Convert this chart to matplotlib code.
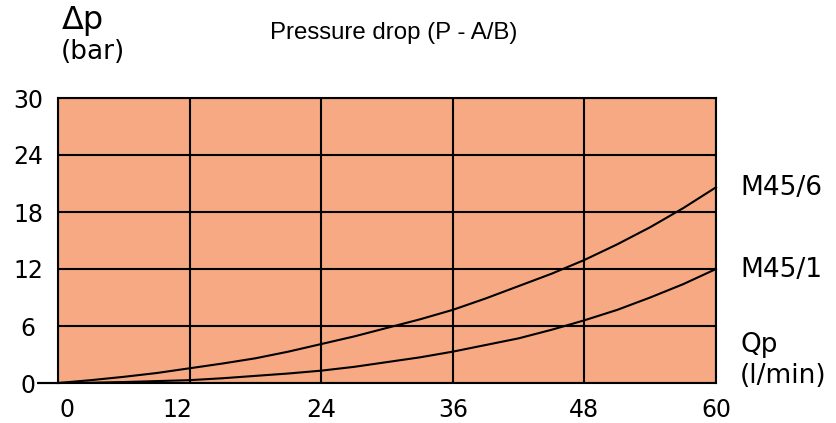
import numpy as np
import matplotlib.pyplot as plt
from matplotlib import font_manager
from matplotlib.transforms import ScaledTranslation

# flow (l/min) and pressure drop (bar)
flow = [-1.8, 0, 3, 6, 9, 12, 15, 18, 21, 24, 27, 30, 33, 36, 39, 42, 45, 48, 51, 54, 57, 60]
dp_m45_6 = [0, 0, 0.3, 0.65, 1.05, 1.55, 2.05, 2.6, 3.3, 4.1, 4.9, 5.8, 6.7, 7.7,
            8.9, 10.2, 11.5, 12.95, 14.6, 16.4, 18.4, 20.6]
dp_m45_1 = [0, 0, 0.03, 0.1, 0.2, 0.3, 0.5, 0.75, 1.0, 1.3, 1.7, 2.2, 2.7, 3.3,
            4.0, 4.7, 5.6, 6.6, 7.7, 9.0, 10.4, 12.0]

x_ticks = [0, 12, 24, 36, 48, 60]
y_ticks = [0, 6, 12, 18, 24, 30]

# plain (not narrow) Liberation Sans for the title
title_font = font_manager.FontProperties(family='Liberation Sans')
for f in font_manager.fontManager.ttflist:
    if (f.name == 'Liberation Sans' and f.style == 'normal' and f.weight in (400, 'normal')
            and 'Narrow' not in f.fname):
        title_font = font_manager.FontProperties(fname=f.fname)
        break
title_font.set_size(17.3)

fig = plt.figure(figsize=(8.36, 4.23), dpi=100)
ax = fig.add_axes([58/836, 40/423, 658/836, 285/423])
ax.set_facecolor('#F6A982')

ax.plot(flow, dp_m45_6, color='black', lw=1.5, clip_on=False)
ax.plot(flow, dp_m45_1, color='black', lw=1.5, clip_on=False)

ax.set_xlim(0, 60)
ax.set_ylim(0, 30)
ax.set_xticks(x_ticks)
ax.set_yticks(y_ticks)
ax.tick_params(length=0, labelsize=17)
ax.tick_params(axis='x', pad=11)
ax.tick_params(axis='y', pad=21.5)
for t in ax.get_yticklabels():
    t.set_horizontalalignment('center')
ax.grid(True, color='black', lw=1.5)
for s in ax.spines.values():
    s.set_linewidth(1.5)

# the 0 and 12 labels sit a bit off their grid lines in the original
xl = ax.get_xticklabels()
xl[0].set_transform(xl[0].get_transform() + ScaledTranslation(9/100, 0, fig.dpi_scale_trans))
xl[1].set_transform(xl[1].get_transform() + ScaledTranslation(-12/100, 0, fig.dpi_scale_trans))

fig.text(62/836, 1 - 20/423, '\u0394p', fontsize=23, va='center', ha='left')
fig.text(61/836, 1 - 52/423, '(bar)', fontsize=19, va='center', ha='left')
fig.text(394/836, 1 - 33/423, 'Pressure drop (P - A/B)', fontproperties=title_font,
         va='center', ha='center')

fig.text(740/836, 1 - 188/423, 'M45/6', fontsize=19, va='center')
fig.text(740/836, 1 - 270/423, 'M45/1', fontsize=19, va='center')
fig.text(740/836, 1 - 345/423, 'Qp', fontsize=19, va='center')
fig.text(740/836, 1 - 376/423, '(l/min)', fontsize=19, va='center')

fig.savefig('out.png', dpi=100)
